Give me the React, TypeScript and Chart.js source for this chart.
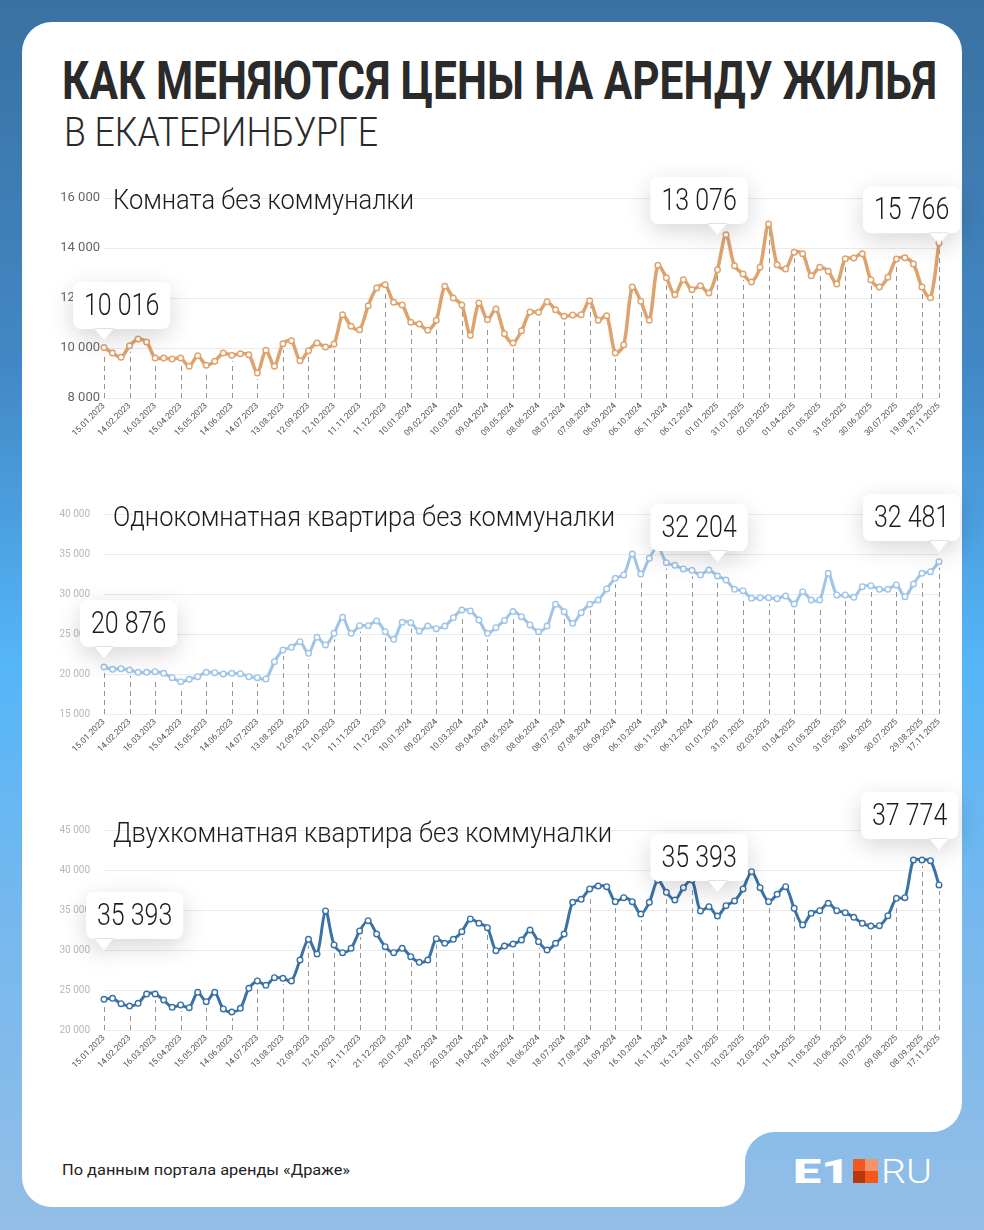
import React, { useEffect, useLayoutEffect, useRef } from 'react';
import { Chart, registerables } from 'chart.js';

Chart.register(...registerables);
Chart.defaults.font.family = "Roboto, 'Noto Sans', sans-serif";

// ---------- DATA ----------
const roomTicks = [
  '15.01.2023', '14.02.2023', '16.03.2023', '15.04.2023', '15.05.2023', '14.06.2023', '14.07.2023',
  '13.08.2023', '12.09.2023', '12.10.2023', '11.11.2023', '11.12.2023', '10.01.2024', '09.02.2024',
  '10.03.2024', '09.04.2024', '09.05.2024', '08.06.2024', '08.07.2024', '07.08.2024', '06.09.2024',
  '06.10.2024', '06.11.2024', '06.12.2024', '01.01.2025', '31.01.2025', '02.03.2025', '01.04.2025',
  '01.05.2025', '31.05.2025', '30.06.2025', '30.07.2025', '19.08.2025', '17.11.2025',
];
const oneRoomTicks = [
  '15.01.2023', '14.02.2023', '16.03.2023', '15.04.2023', '15.05.2023', '14.06.2023', '14.07.2023',
  '13.08.2023', '12.09.2023', '12.10.2023', '11.11.2023', '11.12.2023', '10.01.2024', '09.02.2024',
  '10.03.2024', '09.04.2024', '09.05.2024', '08.06.2024', '08.07.2024', '07.08.2024', '06.09.2024',
  '06.10.2024', '06.11.2024', '06.12.2024', '01.01.2025', '31.01.2025', '02.03.2025', '01.04.2025',
  '01.05.2025', '31.05.2025', '30.06.2025', '30.07.2025', '29.08.2025', '17.11.2025',
];
const twoRoomTicks = [
  '15.01.2023', '14.02.2023', '16.03.2023', '15.04.2023', '15.05.2023', '14.06.2023', '14.07.2023',
  '13.08.2023', '12.09.2023', '12.10.2023', '21.11.2023', '21.12.2023', '20.01.2024', '19.02.2024',
  '20.03.2024', '19.04.2024', '19.05.2024', '18.06.2024', '18.07.2024', '17.08.2024', '16.09.2024',
  '16.10.2024', '16.11.2024', '16.12.2024', '11.01.2025', '10.02.2025', '12.03.2025', '11.04.2025',
  '11.05.2025', '10.06.2025', '10.07.2025', '09.08.2025', '08.09.2025', '17.11.2025',
];

const roomValues = [
  10016, 9800, 9630, 10090, 10360, 10240, 9600, 9600, 9560, 9600,
  9270, 9690, 9310, 9470, 9800, 9710, 9770, 9730, 9000, 9910,
  9270, 10170, 10290, 9490, 9890, 10200, 10040, 10160, 11330, 10870,
  10730, 11690, 12400, 12530, 11830, 11720, 11030, 10960, 10710, 11110,
  12470, 12000, 11720, 10510, 11800, 11130, 11560, 10570, 10200, 10690,
  11440, 11430, 11850, 11530, 11270, 11320, 11330, 11890, 11110, 11290,
  9800, 10130, 12440, 11870, 11110, 13310, 12810, 12130, 12730, 12330,
  12490, 12200, 13130, 14530, 13290, 12960, 12640, 13230, 14960, 13330,
  13160, 13830, 13770, 12890, 13230, 13070, 12560, 13570, 13600, 13770,
  12730, 12440, 12830, 13560, 13610, 13360, 12440, 12010, 14200,
];
const oneRoomValues = [
  20876, 20580, 20670, 20500, 20210, 20210, 20290, 20080, 19540, 19040,
  19330, 19670, 20210, 20170, 20000, 20080, 20040, 19670, 19540, 19380,
  21540, 23000, 23330, 24040, 22580, 24580, 23630, 25080, 27080, 25080,
  26040, 26040, 26630, 25290, 24330, 26460, 26420, 25380, 26000, 25670,
  26000, 27040, 28000, 27880, 26750, 25080, 25790, 26700, 27800, 27170,
  26130, 25290, 26000, 28710, 27790, 26330, 27670, 28710, 29250, 30630,
  31960, 32380, 35000, 32500, 34460, 35920, 33920, 33580, 33130, 32960,
  32380, 33000, 32250, 31750, 30580, 30420, 29460, 29540, 29540, 29420,
  29750, 28750, 30290, 29250, 29250, 32580, 29880, 29880, 29580, 30920,
  31040, 30580, 30580, 31130, 29670, 31250, 32580, 32790, 34040,
];
const twoRoomValues = [
  23830, 23960, 23290, 23000, 23330, 24500, 24500, 23750, 22830, 23130,
  22790, 24710, 23540, 24710, 22630, 22250, 22710, 25210, 26130, 25580,
  26540, 26460, 26130, 28750, 31330, 29500, 34880, 30630, 29670, 30210,
  32380, 33670, 32000, 30420, 29670, 30210, 29170, 28460, 28750, 31420,
  30830, 31330, 32290, 33880, 33330, 32790, 29920, 30500, 30750, 31250,
  32500, 31040, 30000, 30830, 32000, 35960, 36330, 37630, 38000, 37920,
  36040, 36540, 36040, 34500, 35960, 38750, 37210, 36250, 37790, 38750,
  34880, 35420, 34250, 35540, 36130, 37630, 39790, 37790, 36040, 36960,
  37920, 35210, 33130, 34580, 34920, 35830, 34920, 34670, 34080, 33330,
  33000, 33040, 34290, 36460, 36540, 41250, 41250, 41170, 38130,
];

// callout texts
const roomCallouts = ['10 016', '13 076', '15 766'];
const oneRoomCallouts = ['20 876', '32 204', '32 481'];
const twoRoomCallouts = ['35 393', '35 393', '37 774'];

// ---------- helpers ----------
function buildLabels(ticks: string[], n: number) {
  const labels: string[] = new Array(n).fill('');
  ticks.forEach((t, k) => {
    const idx = k === ticks.length - 1 ? n - 1 : k * 3;
    labels[idx] = t;
  });
  return labels;
}
const fmt = (v: number) => String(v).replace(/\B(?=(\d{3})+(?!\d))/g, ' ');

const dropLines = {
  id: 'dropLines',
  beforeDatasetsDraw(chart: any) {
    const meta = chart.getDatasetMeta(0);
    const ctx = chart.ctx;
    const bottom = chart.chartArea.bottom;
    ctx.save();
    ctx.strokeStyle = '#959595';
    ctx.lineWidth = 1;
    ctx.setLineDash([5, 4]);
    chart.data.labels.forEach((l: string, i: number) => {
      if (!l) return;
      const p = meta.data[i];
      const x = Math.round(p.x) + 0.5;
      ctx.beginPath();
      ctx.moveTo(x, bottom);
      ctx.lineTo(x, p.y + 6);
      ctx.stroke();
    });
    ctx.restore();
  },
};

type Callout = { idx: number; tip: number; dx: number; text: string };

function calloutPlugin(list: Callout[]) {
  return {
    id: 'callouts',
    afterDraw(chart: any) {
      const ctx = chart.ctx;
      const xs = chart.scales.x;
      const ys = chart.scales.y;
      list.forEach((c) => {
        const tx = xs.getPixelForValue(c.idx);
        const ty = ys.getPixelForValue(c.tip);
        const h = 47, pH = 11, pW = 20, sx = 0.78;
        ctx.font = '300 32px Roboto';
        const tw = ctx.measureText(c.text).width * sx;
        const w = tw + 22;
        const bx = tx + c.dx;
        const by = ty - pH - h;
        ctx.save();
        ctx.shadowColor = 'rgba(0,0,0,0.16)';
        ctx.shadowBlur = 24;
        ctx.shadowOffsetY = 7;
        ctx.fillStyle = '#ffffff';
        ctx.beginPath();
        ctx.roundRect(bx, by, w, h, 8);
        ctx.moveTo(tx - pW / 2, by + h - 1);
        ctx.lineTo(tx, ty);
        ctx.lineTo(tx + pW / 2, by + h - 1);
        ctx.closePath();
        ctx.fill();
        ctx.restore();
        ctx.save();
        ctx.fillStyle = '#1c1c1c';
        ctx.textBaseline = 'middle';
        ctx.textAlign = 'left';
        ctx.translate(bx + 11, by + h / 2 + 1);
        ctx.scale(sx, 1);
        ctx.font = '300 32px Roboto';
        ctx.fillText(c.text, 0, 0);
        ctx.restore();
      });
    },
  };
}

type Cfg = {
  ticks: string[];
  values: number[];
  color: string;
  lineWidth: number;
  canvasTop: number;
  height: number;
  areaTop: number;
  areaBottom: number;
  min: number;
  max: number;
  step: number;
  yPad: number;
  yColor: string;
  ySize: number;
  callouts: Callout[];
};

const AREA_LEFT = 104;
const AREA_RIGHT = 939;

function LineChart({ cfg }: { cfg: Cfg }) {
  const ref = useRef<HTMLCanvasElement>(null);
  useEffect(() => {
    const canvas = ref.current!;
    const labels = buildLabels(cfg.ticks, cfg.values.length);
    const pad = { left: 40, right: 984 - AREA_RIGHT, top: cfg.areaTop - cfg.canvasTop, bottom: 0 };
    const chart = new Chart(canvas, {
      type: 'line',
      data: {
        labels,
        datasets: [
          {
            data: cfg.values,
            borderColor: cfg.color,
            borderWidth: cfg.lineWidth,
            pointRadius: 2.8,
            pointBorderWidth: 1.4,
            pointBackgroundColor: '#ffffff',
            pointBorderColor: cfg.color,
            tension: 0.3,
            fill: false,
          },
        ],
      },
      options: {
        responsive: false,
        animation: false,
        devicePixelRatio: 1,
        layout: { padding: { ...pad } },
        plugins: { legend: { display: false }, tooltip: { enabled: false } },
        scales: {
          x: {
            type: 'category',
            offset: false,
            grid: { display: false, drawTicks: false },
            border: { display: false },
            ticks: {
              autoSkip: false,
              maxRotation: 45,
              minRotation: 45,
              padding: 3,
              color: '#555',
              font: { size: 8.5 },
            },
          },
          y: {
            min: cfg.min,
            max: cfg.max,
            grid: { color: '#ebebeb', drawTicks: false, lineWidth: 1 },
            border: { display: false },
            ticks: {
              stepSize: cfg.step,
              padding: cfg.yPad,
              color: cfg.yColor,
              font: { size: cfg.ySize },
              callback: (v: any) => fmt(Number(v)),
            },
          },
        },
      },
      plugins: [dropLines, calloutPlugin(cfg.callouts)],
    } as any);
    const want = { left: AREA_LEFT, right: AREA_RIGHT, top: cfg.areaTop - cfg.canvasTop, bottom: cfg.areaBottom - cfg.canvasTop };
    for (let k = 0; k < 2; k++) {
      const ca = chart.chartArea;
      pad.left += want.left - ca.left;
      pad.top += want.top - ca.top;
      pad.right += ca.right - want.right;
      pad.bottom += ca.bottom - want.bottom;
      (chart.config.options as any).layout.padding = { ...pad };
      chart.update();
    }
    return () => chart.destroy();
  }, [cfg]);
  return (
    <canvas
      ref={ref}
      width={984}
      height={cfg.height}
      style={{ position: 'absolute', left: 0, top: cfg.canvasTop, width: 984, height: cfg.height }}
    />
  );
}

function FitText(props: {
  text: string; x: number; baseline: number; size: number; weight: number; width: number; color: string; family?: string;
}) {
  const { text, x, baseline, size, weight, width, color, family = 'Roboto' } = props;
  const ref = useRef<HTMLDivElement>(null);
  useLayoutEffect(() => {
    const el = ref.current!;
    el.style.transform = 'none';
    const w = el.getBoundingClientRect().width;
    if (w > 0) el.style.transform = `scaleX(${width / w})`;
  }, [text, width]);
  return (
    <div
      ref={ref}
      style={{
        position: 'absolute',
        left: x,
        top: baseline - 0.842 * size,
        fontFamily: family,
        fontSize: size,
        fontWeight: weight,
        color,
        lineHeight: `${size}px`,
        whiteSpace: 'nowrap',
        transformOrigin: '0 0',
        display: 'inline-block',
      }}
    >
      {text}
    </div>
  );
}

const roomCfg: Cfg = {
  ticks: roomTicks, values: roomValues, color: '#DEA26D', lineWidth: 3.5,
  canvasTop: 160, height: 290, areaTop: 198, areaBottom: 398,
  min: 8000, max: 16000, step: 2000, yPad: 4, yColor: '#666', ySize: 13,
  callouts: [
    { idx: 0, tip: 10320, dx: -31, text: roomCallouts[0] },
    { idx: 72, tip: 14520, dx: -67, text: roomCallouts[1] },
    { idx: 98, tip: 14150, dx: -76, text: roomCallouts[2] },
  ],
};
const oneRoomCfg: Cfg = {
  ticks: oneRoomTicks, values: oneRoomValues, color: '#9EC4E7', lineWidth: 3,
  canvasTop: 470, height: 300, areaTop: 514, areaBottom: 714,
  min: 15000, max: 40000, step: 5000, yPad: 14, yColor: '#b8b8b8', ySize: 10,
  callouts: [
    { idx: 0, tip: 22000, dx: -24, text: oneRoomCallouts[0] },
    { idx: 72, tip: 34000, dx: -67, text: oneRoomCallouts[1] },
    { idx: 98, tip: 35250, dx: -76, text: oneRoomCallouts[2] },
  ],
};
const twoRoomCfg: Cfg = {
  ticks: twoRoomTicks, values: twoRoomValues, color: '#3A72A5', lineWidth: 3,
  canvasTop: 776, height: 310, areaTop: 830, areaBottom: 1030,
  min: 20000, max: 45000, step: 5000, yPad: 14, yColor: '#b8b8b8', ySize: 10,
  callouts: [
    { idx: 0, tip: 30000, dx: -18, text: twoRoomCallouts[0] },
    { idx: 72, tip: 37250, dx: -67, text: twoRoomCallouts[1] },
    { idx: 98, tip: 42500, dx: -78, text: twoRoomCallouts[2] },
  ],
};

export default function App() {
  useEffect(() => {
    document.body.style.margin = '0';
    document.body.style.overflow = 'hidden';
  }, []);
  const cardPath =
    'M52,22 H932 A30,30 0 0 1 962,52 V1102 A30,30 0 0 1 932,1132 H775 A30,30 0 0 0 745,1162 V1182 A25,25 0 0 1 720,1207 H52 A30,30 0 0 1 22,1177 V52 A30,30 0 0 1 52,22 Z';
  return (
    <div
      style={{
        position: 'absolute',
        left: 0,
        top: 0,
        width: 984,
        height: 1230,
        overflow: 'hidden',
        background: 'linear-gradient(180deg, #3a71a1 0%, #4288c6 30%, #55b6f8 54%, #76b8ee 75%, #93bee6 100%)',
        fontFamily: 'Roboto, sans-serif',
      }}
    >
      <svg width={984} height={1230} style={{ position: 'absolute', left: 0, top: 0 }}>
        <path d={cardPath} fill="#ffffff" />
      </svg>

      <FitText text="КАК МЕНЯЮТСЯ ЦЕНЫ НА АРЕНДУ ЖИЛЬЯ" x={62} baseline={100} size={53} weight={700} width={875} color="#2a2a2a" />
      <FitText text="В ЕКАТЕРИНБУРГЕ" x={64} baseline={147} size={41} weight={300} width={314} color="#2a2a2a" />

      <LineChart cfg={roomCfg} />
      <LineChart cfg={oneRoomCfg} />
      <LineChart cfg={twoRoomCfg} />

      <FitText text="Комната без коммуналки" x={113} baseline={210} size={27} weight={300} width={301} color="#1c1c1c" />
      <FitText text="Однокомнатная квартира без коммуналки" x={113} baseline={527} size={28} weight={300} width={502} color="#1c1c1c" />
      <FitText text="Двухкомнатная квартира без коммуналки" x={113} baseline={843} size={28} weight={300} width={499} color="#1c1c1c" />

      <FitText text="По данным портала аренды «Драже»" x={62} baseline={1175} size={14} weight={400} width={288} color="#222" />

      <FitText text="E1" x={793} baseline={1183} size={33} weight={900} width={57} color="#ffffff" />
      <div style={{ position: 'absolute', left: 853, top: 1159, width: 12, height: 12, background: '#F05A22' }} />
      <div style={{ position: 'absolute', left: 865, top: 1159, width: 13, height: 12, background: '#F4946C' }} />
      <div style={{ position: 'absolute', left: 853, top: 1171, width: 12, height: 12, background: '#B5380E' }} />
      <div style={{ position: 'absolute', left: 865, top: 1171, width: 13, height: 12, background: '#F5561A' }} />
      <FitText text="RU" x={881} baseline={1183} size={33} weight={300} width={51} color="#ffffff" />
    </div>
  );
}
